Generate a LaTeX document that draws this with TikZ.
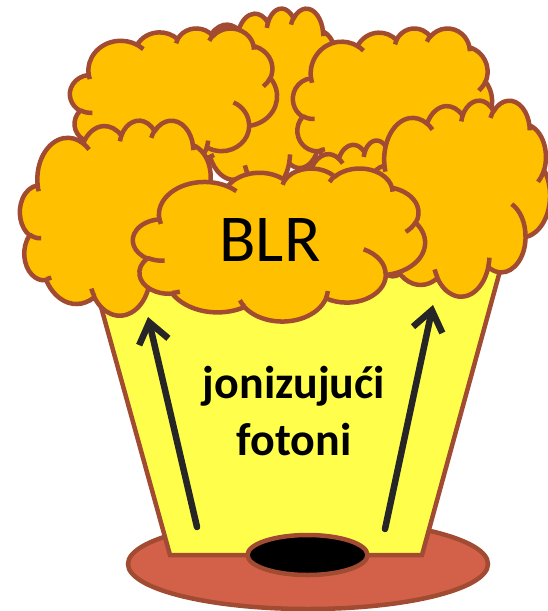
\documentclass[tikz,border=0pt]{standalone}
\usepackage{fontspec}
\setmainfont{Carlito}
\usetikzlibrary{arrows.meta}

\definecolor{cloudfill}{HTML}{FFC000}
\definecolor{rim}{HTML}{A04B32}
\definecolor{bucket}{HTML}{FFFF4B}
\definecolor{dish}{HTML}{D3614A}
\definecolor{ink}{HTML}{262626}

% arc given as in office shapes: radii, start angle and sweep (seen angles)
\newcommand{\ooarc}[4]{arc[x radius=#1, y radius=#2,
    start angle={atan2(#1*sin(#3),#2*cos(#3))},
    delta angle={mod(atan2(#1*sin(#3+#4),#2*cos(#3+#4))-atan2(#1*sin(#3),#2*cos(#3))+720,360)}]}

% one puffy cloud in a box: left, top, width, height
\newcommand{\puffcloud}[4]{%
  \begin{scope}[shift={(#1,#2)}, xscale=#3/432, yscale=#4/432]
    \filldraw[puff] (39,143.7)
      \ooarc{67.53}{91.90}{-190.4875}{123.7805}
      \ooarc{53.33}{72.67}{-144.1024}{89.9452}
      \ooarc{43.65}{59.45}{-145.8079}{99.7230}
      \ooarc{48.57}{65.95}{-130.9861}{117.2417}
      \ooarc{53.33}{72.73}{-78.7089}{109.0269}
      \ooarc{67.75}{92.20}{-46.2673}{130.2690}
      \ooarc{57.85}{78.67}{0.6250}{114.0333}
      \ooarc{67.52}{92.15}{22.4516}{115.1726}
      \ooarc{77.20}{105.43}{66.2426}{75.7110}
      \ooarc{43.60}{59.18}{-274.9421}{146.7356}
      \ooarc{43.45}{59.45}{-246.8285}{152.5189} -- cycle;
    \draw[puff, fill=none]
      (46.93,261.77) \ooarc{43.45}{59.45}{86.7420}{26.4295}
      (69.28,348.99) \ooarc{43.60}{59.18}{73.6105}{11.4475}
      (164.78,390.90) \ooarc{67.52}{92.15}{137.6242}{14.0811}
      (288.27,347.51) \ooarc{67.52}{92.15}{6.4533}{15.9984}
      (341.29,229.54) \ooarc{57.85}{78.67}{-70.2924}{70.9174}
      (417.98,153.54) \ooarc{53.33}{72.73}{30.3180}{27.7515}
      (383.24,54.26) \ooarc{48.57}{65.95}{-13.7443}{14.8512}
      (290.78,39.52) \ooarc{48.57}{65.95}{-149.1815}{18.1954}
      (221.41,47.20) \ooarc{43.65}{59.45}{-163.4943}{17.6895}
      (140.00,51.92) \ooarc{67.53}{91.90}{-66.7070}{12.3194}
      (41.27,157.89) \ooarc{67.53}{91.90}{157.6544}{11.8582};
  \end{scope}}

\begin{document}
\begin{tikzpicture}[x=1pt, y=1pt, yscale=-1,
    puff/.style={fill=cloudfill, draw=rim, line width=4.5pt, line join=round},
    rimline/.style={draw=rim, line width=4.5pt},
    photon/.style={draw=ink, line width=6.5pt, line cap=round,
        -{Straight Barb[length=20pt, width=30pt]}}
]
\useasboundingbox (0,0) rectangle (547,611);

% dish, bucket and the hole
\filldraw[fill=dish, rimline] (308,564) ellipse [x radius=180, y radius=45];
\filldraw[fill=bucket, rimline] (88,260) -- (503,260) -- (422,555) -- (170,555) -- cycle;
\filldraw[fill=black, rimline] (307.5,555) ellipse [x radius=60, y radius=20];

% photons going up
\coordinate (lfoot) at (197,527);
\coordinate (ltip) at (148,317);
\coordinate (rfoot) at (385,529);
\coordinate (rtip) at (433,305);
\draw[photon] (lfoot) -- (ltip);
\draw[photon] (rfoot) -- (rtip);

\node[align=center, font=\fontsize{46}{57}\selectfont\bfseries] (photons)
    at (294,411) {jonizujući\\fotoni};

% clouds, back to front
\puffcloud{190}{8}{150}{182}
\puffcloud{70}{28}{207}{140}
\puffcloud{293}{28}{199}{150}
\puffcloud{20}{120}{195}{195}
\puffcloud{296}{140}{132}{155}
\puffcloud{368}{100}{182}{196}
\puffcloud{133}{168}{292}{153}

\node[font=\fontsize{67}{80}\selectfont] (blr) at (270,240) {BLR};

\end{tikzpicture}
\end{document}
